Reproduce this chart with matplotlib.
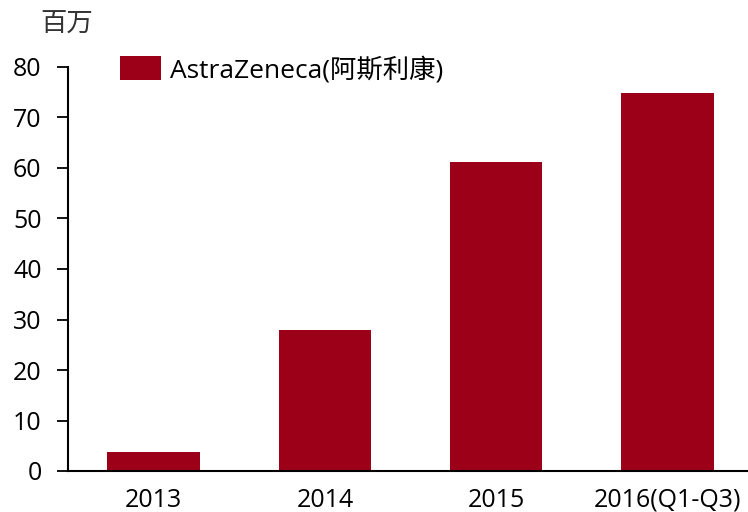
import matplotlib
matplotlib.use("Agg")
from matplotlib import pyplot as plt
import numpy as np

plt.rcParams['font.family'] = ['Open Sans', 'Noto Sans CJK SC', 'DejaVu Sans']

categories = ['2013', '2014', '2015', '2016(Q1-Q3)']
values = [3.8, 27.9, 61.2, 74.8]
series_name = 'AstraZeneca(阿斯利康)'
unit_label = '百万'
bar_color = '#9C0018'

fig = plt.figure(figsize=(7.48, 5.12), dpi=100)
ax = fig.add_axes([68 / 748, 41 / 512, 1 - 68 / 748, 404 / 512])

x = np.arange(len(categories))
ax.bar(x, values, width=0.54, color=bar_color, label=series_name, zorder=2)

ax.set_xlim(-0.5, 3.47)
ax.set_ylim(0, 80)
ax.set_yticks(np.arange(0, 81, 10))
ax.set_xticks(x)
ax.set_xticklabels(categories)

ax.spines[['top', 'right']].set_visible(False)
ax.spines['left'].set_linewidth(1.5)
ax.spines['bottom'].set_linewidth(1.5)
ax.tick_params(axis='y', direction='out', length=8, width=1.3, labelsize=18, pad=11)
ax.tick_params(axis='x', length=0, labelsize=18, pad=12)

fig.text(40 / 748, 1 - 24 / 512, unit_label, fontsize=19, va='center', ha='left',
         family=['Noto Sans CJK SC'], color='#333333')

leg = fig.legend(loc='upper left', bbox_to_anchor=(120 / 748, 1 - 56 / 512), frameon=False,
                 fontsize=19, handlelength=1.55, handleheight=1.04, handletextpad=0.34,
                 borderpad=0, borderaxespad=0)

fig.savefig('out.png', dpi=100)
